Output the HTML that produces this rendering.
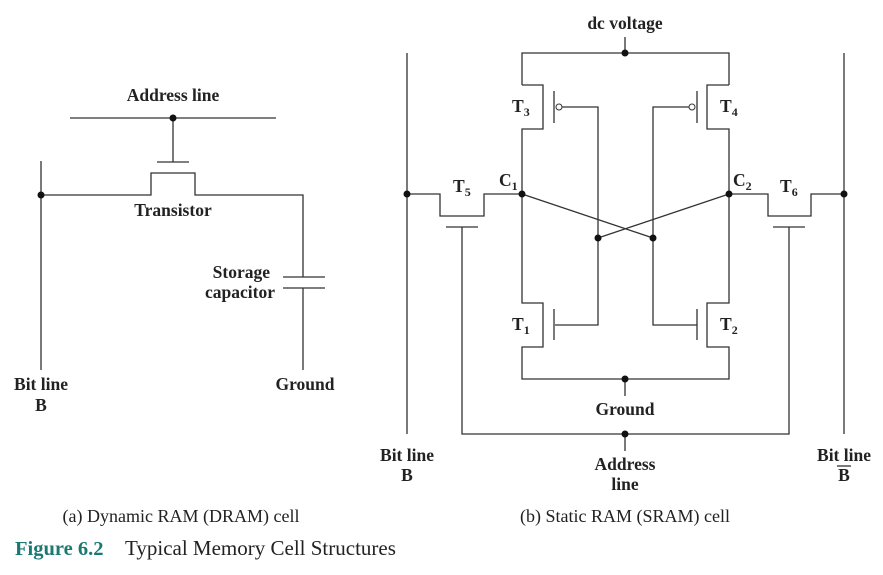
<!DOCTYPE html>
<html><head><meta charset="utf-8"><style>
html,body{margin:0;padding:0;background:#fff;}
svg{display:block;}
text{font-family:"Liberation Serif",serif;fill:#222;}
.b{font-weight:bold;font-size:17.5px;}
</style></head><body>
<svg width="883" height="575" viewBox="0 0 883 575">
<g stroke="#333" stroke-width="1.3" fill="none">
<line x1="70" y1="118" x2="276" y2="118"/>
<line x1="173" y1="118" x2="173" y2="162"/>
<line x1="157" y1="162" x2="189" y2="162"/>
<polyline points="41,195 151,195 151,173 195,173 195,195 303,195 303,277"/>
<line x1="41" y1="161" x2="41" y2="370"/>
<line x1="283" y1="277" x2="325" y2="277"/>
<line x1="283" y1="288" x2="325" y2="288"/>
<line x1="303" y1="288" x2="303" y2="370"/>
<line x1="407" y1="53" x2="407" y2="434"/>
<line x1="844" y1="53" x2="844" y2="434"/>
<line x1="625" y1="37" x2="625" y2="53"/>
<polyline points="522,85 522,53 729,53 729,85"/>
<polyline points="522,85 543,85 543,129 522,129 522,303 543,303 543,347 522,347 522,379 729,379 729,347 707,347 707,303 729,303 729,129 707,129 707,85 729,85"/>
<line x1="554" y1="91" x2="554" y2="123"/>
<line x1="697" y1="91" x2="697" y2="123"/>
<line x1="554" y1="309" x2="554" y2="340"/>
<line x1="697" y1="309" x2="697" y2="340"/>
<polyline points="562,107 598,107 598,325 555,325"/>
<polyline points="689,107 653,107 653,325 697,325"/>
<line x1="522" y1="194" x2="653" y2="238"/>
<line x1="729" y1="194" x2="598" y2="238"/>
<polyline points="407,194 440,194 440,216 484,216 484,194 522,194"/>
<polyline points="729,194 768,194 768,216 811,216 811,194 844,194"/>
<line x1="446" y1="227" x2="478" y2="227"/>
<line x1="773" y1="227" x2="805" y2="227"/>
<polyline points="462,227 462,434 789,434 789,227"/>
<line x1="625" y1="379" x2="625" y2="396"/>
<line x1="625" y1="434" x2="625" y2="451"/>
</g>
<g fill="#fff" stroke="#333" stroke-width="1">
<circle cx="559" cy="107" r="3"/><circle cx="692" cy="107" r="3"/>
</g>
<g fill="#111">
<circle cx="173" cy="118" r="3.5"/><circle cx="41" cy="195" r="3.5"/>
<circle cx="625" cy="53" r="3.5"/><circle cx="522" cy="194" r="3.5"/><circle cx="729" cy="194" r="3.5"/>
<circle cx="407" cy="194" r="3.5"/><circle cx="844" cy="194" r="3.5"/>
<circle cx="598" cy="238" r="3.5"/><circle cx="653" cy="238" r="3.5"/>
<circle cx="625" cy="379" r="3.5"/><circle cx="625" cy="434" r="3.5"/>
</g>
<g>
<text x="173" y="101" text-anchor="middle" class="b">Address line</text>
<text x="173" y="216" text-anchor="middle" class="b">Transistor</text>
<text x="270" y="278" text-anchor="end" class="b">Storage</text>
<text x="275" y="298" text-anchor="end" class="b">capacitor</text>
<text x="41" y="390" text-anchor="middle" class="b">Bit line</text>
<text x="41" y="411" text-anchor="middle" class="b">B</text>
<text x="305" y="390" text-anchor="middle" class="b">Ground</text>
<text x="625" y="29" text-anchor="middle" class="b">dc voltage</text>
<text x="512" y="112" class="b">T<tspan font-size="12" dy="4">3</tspan></text>
<text x="720" y="112" class="b">T<tspan font-size="12" dy="4">4</tspan></text>
<text x="512" y="330" class="b">T<tspan font-size="12" dy="4">1</tspan></text>
<text x="720" y="330" class="b">T<tspan font-size="12" dy="4">2</tspan></text>
<text x="453" y="192" class="b">T<tspan font-size="12" dy="4">5</tspan></text>
<text x="780" y="192" class="b">T<tspan font-size="12" dy="4">6</tspan></text>
<text x="499" y="186" class="b">C<tspan font-size="12" dy="4">1</tspan></text>
<text x="733" y="186" class="b">C<tspan font-size="12" dy="4">2</tspan></text>
<text x="625" y="415" text-anchor="middle" class="b">Ground</text>
<text x="407" y="461" text-anchor="middle" class="b">Bit line</text>
<text x="407" y="481" text-anchor="middle" class="b">B</text>
<text x="625" y="470" text-anchor="middle" class="b">Address</text>
<text x="625" y="490" text-anchor="middle" class="b">line</text>
<text x="844" y="461" text-anchor="middle" class="b">Bit line</text>
<text x="844" y="481" text-anchor="middle" class="b">B</text>
</g>
<line x1="837" y1="466" x2="851" y2="466" stroke="#222" stroke-width="1.2"/>
<text x="181" y="522" text-anchor="middle" font-size="18">(a) Dynamic RAM (DRAM) cell</text>
<text x="625" y="522" text-anchor="middle" font-size="18">(b) Static RAM (SRAM) cell</text>
<text x="15" y="555" font-size="20.5" font-weight="bold" style="fill:#1a7a72">Figure 6.2</text>
<text x="125" y="555" font-size="21">Typical Memory Cell Structures</text>
</svg>
</body></html>
